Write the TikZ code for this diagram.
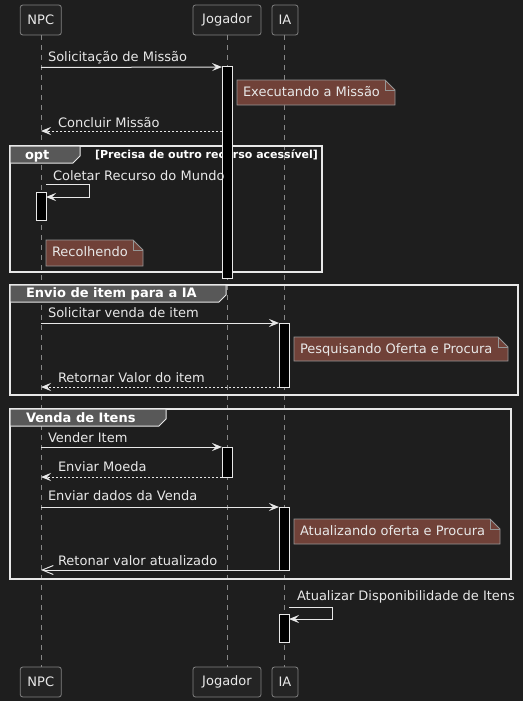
\documentclass[tikz,border=0pt]{standalone}
\usepackage{fontspec}
\setmainfont{DejaVu Sans}
\usetikzlibrary{arrows.meta,calc}
\definecolor{bg}{RGB}{30,30,30}
\definecolor{fg}{RGB}{232,232,232}
\definecolor{lifeline}{RGB}{135,135,135}
\definecolor{partborder}{RGB}{130,130,130}
\definecolor{partfill}{RGB}{36,36,36}
\definecolor{notefill}{RGB}{112,65,56}
\definecolor{noteborder}{RGB}{150,150,150}
\definecolor{tabfill}{RGB}{88,88,88}
\newcommand{\notebox}[6]{%
  \filldraw[notest] (#2,#3) -- (#4-10,#3) -- (#4,#3+10) -- (#4,#5) -- (#2,#5) -- cycle;
  \draw[notest,fill=none] (#4-10,#3) -- (#4-10,#3+10) -- (#4,#3+10);
  \node[lbl] (#1) at (#2+6,#3+16) {#6};
}
\begin{document}
\begin{tikzpicture}[x=1pt,y=-1pt,
  every node/.style={inner sep=0,outer sep=0},
  part/.style={draw=partborder, fill=partfill, rounded corners=2.5, minimum height=30,
    text=fg, font=\fontsize{13}{15}\selectfont, line width=0.8},
  life/.style={draw=lifeline, dash pattern=on 5 off 5, line width=0.8},
  act/.style={draw=fg, fill=black, line width=1, minimum width=10},
  msg/.style={draw=fg, line width=1, -{Stealth[length=10,width=8,inset=4]}},
  ret/.style={msg, dash pattern=on 2 off 2},
  openmsg/.style={draw=fg, line width=1, -{Straight Barb[length=11,width=9]}},
  lbl/.style={anchor=base west, text=fg, font=\fontsize{13}{15}\selectfont},
  notest/.style={draw=noteborder, fill=notefill, line width=0.8},
  frame/.style={draw=fg, line width=1.5},
  tab/.style={draw=fg, fill=tabfill, line width=1},
  tabtxt/.style={anchor=base west, text=white, font=\bfseries\fontsize{13}{15}\selectfont},
  cond/.style={anchor=base west, text=white, font=\bfseries\fontsize{11}{13}\selectfont},
]
\fill[bg] (0,0) rectangle (523,701);
\useasboundingbox (0,0) rectangle (523,701);

% participants
\node[part, minimum width=41] (npcT) at (40.8,20) {NPC};
\node[part, minimum width=68] (jogT) at (227,20) {Jogador};
\node[part, minimum width=26] (iaT) at (285,20) {IA};
\node[part, minimum width=41] (npcB) at (40.8,682) {NPC};
\node[part, minimum width=68] (jogB) at (227,682) {Jogador};
\node[part, minimum width=26] (iaB) at (285,682) {IA};

% lifelines
\draw[life] (41,35) -- (41,667);
\draw[life] (227,35) -- (227,667);
\draw[life] (284.5,35) -- (284.5,667);

% frames
\draw[frame] (10,146) rectangle (322,272);
\filldraw[tab] (10,146) -- (80,146) -- (80,156) -- (73,163) -- (10,163) -- cycle;
\node[tabtxt] (optT) at (25,159) {opt};
\node[cond] (optC) at (95,158) {[Precisa de outro recurso acessível]};

\draw[frame] (10,285) rectangle (518,395);
\filldraw[tab] (10,285) -- (226,285) -- (226,295) -- (219,302) -- (10,302) -- cycle;
\node[tabtxt] (g2T) at (26,297.5) {Envio de item para a IA};

\draw[frame] (10,409) rectangle (511,579);
\filldraw[tab] (10,409) -- (166,409) -- (166,419) -- (159,426) -- (10,426) -- cycle;
\node[tabtxt] (g3T) at (26,422) {Venda de Itens};

% activations
\node[act, minimum height=211] (a1) at (227,172.5) {};
\node[act, minimum height=28] (a2) at (41,206) {};
\node[act, minimum height=64] (a3) at (284,355) {};
\node[act, minimum height=30] (a4) at (227,462) {};
\node[act, minimum height=63] (a5) at (284,538.5) {};
\node[act, minimum height=28] (a6) at (284,628) {};

% messages
\coordinate (n1) at (41,67.5);
\draw[msg] (n1) -- (a1.north west);
\node[lbl] (m1) at (48,61.7) {Solicitação de Missão};

\notebox{nt1}{237}{80}{395}{105}{Executando a Missão}

\coordinate (n2) at (41,131);
\draw[ret] (a1.west |- n2) -- (n2);
\node[lbl] (m2) at (58,127) {Concluir Missão};

\coordinate (s1) at (46,184);
\coordinate (s1r) at (89,184);
\node[lbl] (m3) at (53,180) {Coletar Recurso do Mundo};
\draw[msg] (s1) -- (s1r) -- ($(s1r|-a2.north)+(0,5)$) -- ($(a2.north east)+(0,5)$);

\notebox{nt2}{46}{240}{143}{266}{Recolhendo}

\coordinate (n4) at (41,323);
\draw[msg] (n4) -- (a3.north west);
\node[lbl] (m4) at (48,317.3) {Solicitar venda de item};

\notebox{nt3}{294}{337}{508}{361}{Pesquisando Oferta e Procura}

\coordinate (n5) at (41,387);
\draw[ret] (a3.south west) -- (n5);
\node[lbl] (m5) at (58,382.3) {Retornar Valor do item};

\coordinate (n6) at (41,447);
\draw[msg] (n6) -- (a4.north west);
\node[lbl] (m6) at (48,442.7) {Vender Item};

\coordinate (n7) at (41,477);
\draw[ret] (a4.south west) -- (n7);
\node[lbl] (m7) at (58,471.7) {Enviar Moeda};

\coordinate (n8) at (41,507);
\draw[msg] (n8) -- (a5.north west);
\node[lbl] (m8) at (48,500.7) {Enviar dados da Venda};

\notebox{nt4}{294}{519}{500}{544}{Atualizando oferta e Procura}

\coordinate (n9) at (41,570);
\draw[openmsg] (a5.south west) -- (n9);
\node[lbl] (m9) at (58,565) {Retonar valor atualizado};

\coordinate (s2) at (289,607);
\coordinate (s2r) at (332,607);
\node[lbl] (m10) at (297,600.7) {Atualizar Disponibilidade de Itens};
\draw[msg] (s2) -- (s2r) -- ($(s2r|-a6.north)+(0,5)$) -- ($(a6.north east)+(0,5)$);
\end{tikzpicture}
\end{document}
